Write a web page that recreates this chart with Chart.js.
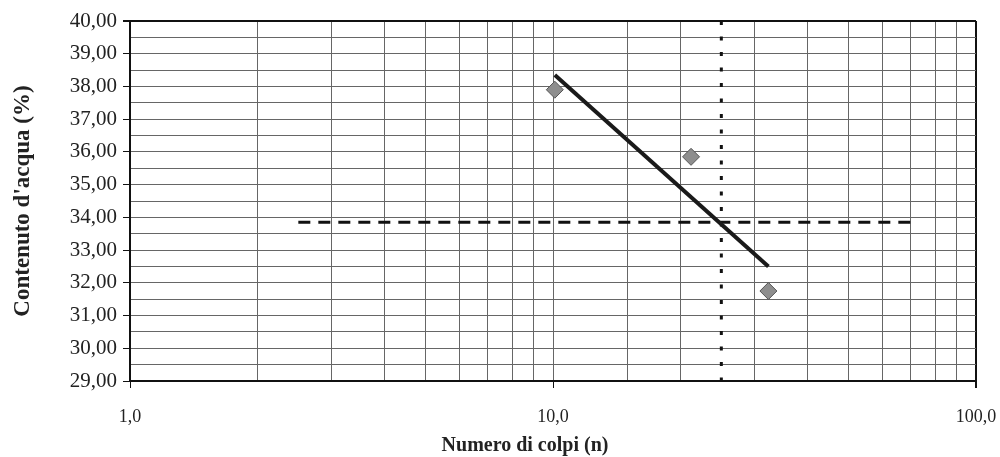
<!DOCTYPE html>
<html>
<head>
<meta charset="utf-8">
<script src="https://cdn.jsdelivr.net/npm/chart.js@4"></script>
<style>
  html, body { margin:0; padding:0; background:#fff; }
  #wrap { width:1000px; height:457px; }
</style>
</head>
<body>
<div id="wrap"><canvas id="limiteChart" width="1000" height="457"></canvas></div>
<script>
// punti misurati
const nColpi = [10.1, 21.2, 32.3];
const contenuto = [37.9, 35.85, 31.75];
// retta di regressione
const trendX = [10.1, 32.3];
const trendY = [38.35, 32.5];
// limite di liquidita (orizzontale) e 25 colpi (verticale)
const limiteX = [2.5, 73];
const limiteY = [33.85, 33.85];
const colpiRifX = [25, 25];
const colpiRifY = [40, 29];
// assi
const yMin = 29, yMax = 40, yStep = 0.5;
const xMin = 1, xMax = 100;
const xTitle = 'Numero di colpi (n)';
const yTitle = "Contenuto d'acqua (%)";

function toPts(xs, ys) {
    let out = [];
    for (let i = 0; i < xs.length; i++) out.push({x: xs[i], y: ys[i]});
    return out;
}
function isMajorX(v) {
    return Math.abs(Math.log10(v) - Math.round(Math.log10(v))) < 1e-9;
}

Chart.defaults.font.family = "'Liberation Serif', 'DejaVu Serif', serif";
Chart.defaults.color = '#222';

// titolo asse x un po' a sinistra del centro, come nell'originale
const xTitlePlugin = {
    id: 'xTitle',
    afterDraw: function(chart) {
        const ctx = chart.ctx;
        ctx.save();
        ctx.font = "bold 20px 'Liberation Serif', serif";
        ctx.fillStyle = '#222';
        ctx.textAlign = 'center';
        ctx.textBaseline = 'middle';
        ctx.fillText(xTitle, 525, 446);
        ctx.restore();
    }
};

new Chart(document.getElementById('limiteChart'), {
    type: 'scatter',
    data: {
        datasets: [{
            label: 'punti',
            data: toPts(nColpi, contenuto),
            pointStyle: 'rectRot',
            pointRadius: 8.5,
            backgroundColor: '#8e8e8e',
            borderColor: '#555',
            borderWidth: 1,
            order: 0
        }, {
            label: 'trend',
            data: toPts(trendX, trendY),
            showLine: true,
            borderColor: '#1a1a1a',
            borderWidth: 4,
            pointRadius: 0,
            order: 1
        }, {
            label: 'limite',
            data: toPts(limiteX, limiteY),
            showLine: true,
            borderColor: '#111',
            borderWidth: 3,
            borderDash: [12, 8],
            pointRadius: 0,
            order: 2
        }, {
            label: '25 colpi',
            data: toPts(colpiRifX, colpiRifY),
            showLine: true,
            borderColor: '#111',
            borderWidth: 3,
            borderDash: [4, 11.5],
            pointRadius: 0,
            order: 3
        }]
    },
    plugins: [xTitlePlugin],
    options: {
        responsive: false,
        animation: false,
        layout: { padding: { top: 21, right: 24, left: 0, bottom: 0 } },
        plugins: { legend: { display: false }, tooltip: { enabled: false } },
        scales: {
            x: {
                type: 'logarithmic',
                min: xMin,
                max: xMax,
                afterFit: function(s) { s.height = 76; s.paddingRight = 0; s.paddingLeft = 0; },
                border: { display: true, color: '#111', width: 2 },
                grid: {
                    color: function(c) { return (c.tick && c.tick.value === xMax) ? '#111' : '#666'; },
                    lineWidth: function(c) { return (c.tick && c.tick.value === xMax) ? 2 : 1; },
                    tickLength: 7,
                    tickColor: function(c) { return (c.tick && isMajorX(c.tick.value)) ? '#111' : 'rgba(0,0,0,0)'; }
                },
                ticks: {
                    autoSkip: false,
                    maxRotation: 0,
                    padding: 18,
                    font: { size: 18 },
                    callback: function(v) { return isMajorX(v) ? v.toFixed(1).replace('.', ',') : ''; }
                },
                title: { display: false }
            },
            y: {
                min: yMin,
                max: yMax,
                afterFit: function(s) { s.width = 130; s.paddingTop = 0; s.paddingBottom = 0; },
                border: { display: true, color: '#111', width: 2 },
                grid: {
                    color: function(c) { return (c.tick && c.tick.value === yMax) ? '#111' : '#666'; },
                    lineWidth: function(c) { return (c.tick && c.tick.value === yMax) ? 2 : 1; },
                    tickLength: 7,
                    tickColor: function(c) { return (c.tick && Number.isInteger(c.tick.value)) ? '#111' : 'rgba(0,0,0,0)'; }
                },
                ticks: {
                    stepSize: yStep,
                    autoSkip: false,
                    padding: 6,
                    font: { size: 21 },
                    callback: function(v) { return Number.isInteger(v) ? v.toFixed(2).replace('.', ',') : ''; }
                },
                title: {
                    display: true,
                    text: yTitle,
                    font: { size: 23, weight: 'bold', lineHeight: 1 },
                    padding: { top: 12, bottom: 0 }
                }
            }
        }
    }
});
</script>
</body>
</html>
